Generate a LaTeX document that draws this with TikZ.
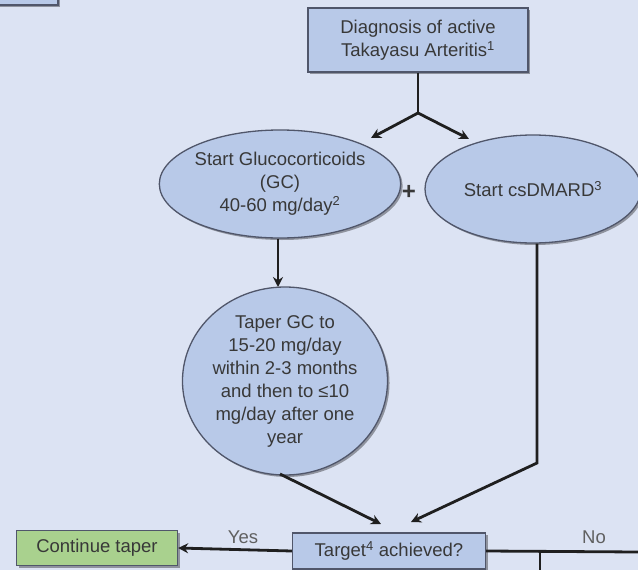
\documentclass[tikz,border=0pt]{standalone}
\usepackage{fontspec}
\setmainfont{Liberation Sans}
\usetikzlibrary{arrows.meta,shapes.geometric,shadows}
\definecolor{bgc}{HTML}{DCE3F3}
\definecolor{nodefill}{HTML}{B8C9E8}
\definecolor{nodeedge}{HTML}{50566A}
\definecolor{greenfill}{HTML}{A9D18E}
\definecolor{txt}{HTML}{383838}
\tikzset{
  base/.style={draw=nodeedge, line width=1.3pt, text=txt, align=center, inner sep=0pt,
    font=\fontsize{18.5}{23}\selectfont,
    drop shadow={shadow xshift=2pt, shadow yshift=-2pt, opacity=0.35, fill=black}},
  boxnode/.style={base, rectangle, fill=nodefill},
  greenbox/.style={base, rectangle, fill=greenfill},
  ovalnode/.style={base, ellipse, fill=nodefill},
  conn/.style={line width=2.8pt, draw=black!88},
  arr/.style={conn, -{Stealth[length=10pt,width=10pt]}},
  lbl/.style={text=txt!80, font=\fontsize{18.5}{23}\selectfont}
}
\begin{document}
\begin{tikzpicture}[x=1pt,y=-1pt]
\useasboundingbox (0,0) rectangle (638,570);
\fill[bgc] (0,0) rectangle (638,570);
% partial box at top-left corner
\node[boxnode, minimum width=70pt, minimum height=26pt] (corner) at (23,-8) {};
% nodes
\node[boxnode, minimum width=220pt, minimum height=64pt] (diag) at (418,40)
  {Diagnosis of active\\Takayasu Arteritis\textsuperscript{1}};
\node[ovalnode, minimum width=222pt, minimum height=108pt] (gc) at (280,184)
  {Start Glucocorticoids\\(GC)\\40-60 mg/day\textsuperscript{2}};
\node[ovalnode, minimum width=216pt, minimum height=108pt] (dmard) at (533,189)
  {Start csDMARD\textsuperscript{3}};
\node[text=txt, font=\fontsize{24}{24}\selectfont\bfseries] (plus) at (409,192) {+};
\node[ovalnode, minimum width=192pt, minimum height=188pt] (taper) at (285,381)
  {Taper GC to\\15-20 mg/day\\within 2-3 months\\and then to ≤10\\mg/day after one\\year};
\node[boxnode, minimum width=193pt, minimum height=36pt] (target) at (389,551)
  {Target\textsuperscript{4} achieved?};
\node[greenbox, minimum width=161pt, minimum height=35pt] (cont) at (97,548)
  {Continue taper};
\node[lbl] (yes) at (243,537) {Yes};
\node[lbl] (no) at (594,537) {No};
% coordinates
\coordinate (j) at (418,113);
\coordinate (gctip) at (371,138);
\coordinate (dmtip) at (469,139);
\coordinate (dmbend) at (537,463);
\coordinate (tgtr) at (411,522);
\coordinate (tgtl) at (381,524);
\coordinate (taperbot) at (280,474);
\coordinate (noend) at (638,552);
\coordinate (nojoin) at (540,552);
\coordinate (nodown) at (540,570);
% connectors
\draw[conn] (diag.south) -- (j);
\draw[arr] (j) -- (gctip);
\draw[arr] (j) -- (dmtip);
\draw[arr] (gc.south -| 278,0) -- (278,287);
\draw[arr] (dmard.south -| dmbend) -- (dmbend) -- (tgtr);
\draw[arr] (taperbot) -- (tgtl);
\draw[arr] (target.west) -- (cont.east);
\draw[conn] (target.east) -- (noend);
\draw[conn] (nojoin) -- (nodown);
\end{tikzpicture}
\end{document}
